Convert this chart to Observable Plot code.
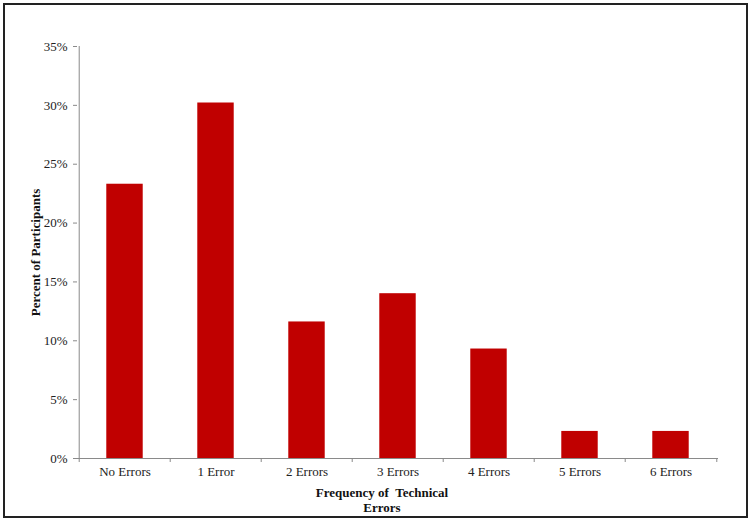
<!DOCTYPE html>
<html><head><meta charset="utf-8">
<script src="https://cdn.jsdelivr.net/npm/d3@7"></script>
<script src="https://cdn.jsdelivr.net/npm/@observablehq/plot@0.6"></script>
<style>
body{margin:0;background:#fff;}
#wrap{position:relative;width:752px;height:522px;}
#frame{position:absolute;left:3px;top:3px;width:741px;height:511px;border:2px solid #222;pointer-events:none;}
#wrap svg{position:absolute;left:0;top:0;}
</style></head><body><div id="wrap"><div id="frame"></div></div>
<script>
const categories = ["No Errors", "1 Error", "2 Errors", "3 Errors", "4 Errors", "5 Errors", "6 Errors"];
const percents = [23.3, 30.2, 11.6, 14.0, 9.3, 2.3, 2.3];
const yTicks = [0, 5, 10, 15, 20, 25, 30, 35];
const xTitle = "Frequency of  Technical\nErrors";
const yTitle = "Percent of Participants";

const data = categories.map((c, i) => ({category: c, pct: percents[i]}));
const W = 752, H = 522, mL = 77, mR = 34, mT = 46, mB = 64;
const bw = (W - mL - mR) / categories.length;
const barW = 37;
const axisColor = "#8a8a8a";

const chart = Plot.plot({
  width: W, height: H,
  marginLeft: mL, marginRight: mR, marginTop: mT, marginBottom: mB,
  style: {fontFamily: "'Liberation Serif','Times New Roman',serif", fontSize: "13px", color: "#222", background: "transparent"},
  x: {domain: categories, padding: 0, label: null},
  y: {domain: [0, 35], label: null},
  marks: [
    Plot.barY(data, {x: "category", y: "pct", fill: "#C00000", insetLeft: (bw - barW) / 2, insetRight: (bw - barW) / 2}),
    Plot.ruleY([0], {stroke: axisColor}),
    Plot.ruleX([categories[0]], {dx: -bw / 2, y1: 0, y2: 35, stroke: axisColor}),
    Plot.axisY(yTicks, {tickSize: 4, tickPadding: 6, tickFormat: d => d + "%", stroke: axisColor, fill: "#222", label: null}),
    Plot.axisX({tickSize: 0, tickPadding: 8, label: null, fill: "#222"}),
    Plot.axisX(categories, {tickSize: 4, dx: -bw / 2, tickFormat: () => "", stroke: axisColor, label: null}),
    Plot.axisX([categories[categories.length - 1]], {tickSize: 4, dx: bw / 2, tickFormat: () => "", stroke: axisColor, label: null}),
    Plot.text([yTitle], {frameAnchor: "left", textAnchor: "middle", rotate: -90, dx: -42, fontWeight: "bold", fontSize: 13, fill: "#111"}),
    Plot.text([xTitle], {frameAnchor: "bottom", dy: 41, dx: -16, lineAnchor: "middle", lineHeight: 1.2, fontWeight: "bold", fontSize: 13, fill: "#111"})
  ]
});
document.getElementById("wrap").appendChild(chart);
</script>
</body></html>
